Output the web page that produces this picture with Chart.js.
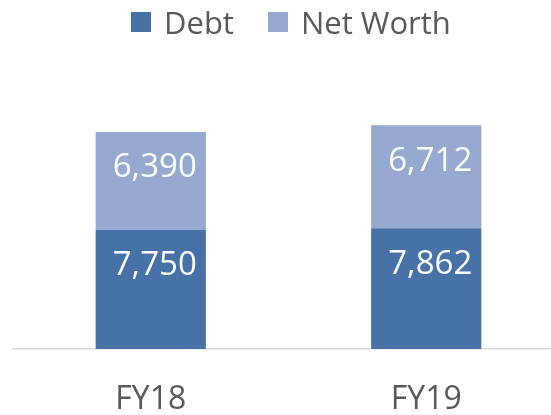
<!DOCTYPE html>
<html lang="en">
<head>
    <meta charset="UTF-8">
    <title>Debt and Net Worth</title>
    <script src="https://cdn.jsdelivr.net/npm/chart.js"></script>
    <style>
        body {
            margin: 0;
            padding: 0;
            background: #fff;
            overflow: hidden;
            font-family: 'Open Sans', sans-serif;
        }
        #chart-box {
            position: relative;
            width: 566px;
            height: 415px;
        }
        #legend {
            position: absolute;
            left: 131px;
            top: 0;
            height: 44px;
            display: flex;
            align-items: center;
            gap: 34px;
            font-size: 31px;
            color: #595959;
            white-space: nowrap;
        }
        #legend .item {
            display: flex;
            align-items: center;
        }
        #legend .swatch {
            width: 20px;
            height: 20px;
            margin-right: 13px;
        }
    </style>
</head>
<body>
    <div id="chart-box">
        <div id="legend"></div>
        <canvas id="fundChart"></canvas>
    </div>

    <script>
        const years = ['FY18', 'FY19'];
        const debt = [7750, 7862];
        const netWorth = [6390, 6712];

        const FONT = "'Open Sans', sans-serif";
        const GREY = '#595959';

        // white value labels near the top of each stacked segment
        const valueLabels = {
            id: 'valueLabels',
            afterDatasetsDraw(chart) {
                const ctx = chart.ctx;
                ctx.save();
                ctx.fillStyle = '#fff';
                ctx.font = '33px ' + FONT;
                ctx.textAlign = 'center';
                ctx.textBaseline = 'middle';
                chart.data.datasets.forEach((ds, i) => {
                    chart.getDatasetMeta(i).data.forEach((bar, j) => {
                        const text = ds.data[j].toLocaleString('en-US');
                        ctx.fillText(text, bar.x + 4, bar.y + 36);
                    });
                });
                ctx.restore();
            }
        };

        const chart = new Chart(document.getElementById('fundChart'), {
            type: 'bar',
            data: {
                labels: years,
                datasets: [
                    {
                        label: 'Debt',
                        data: debt,
                        backgroundColor: '#4672A7',
                        borderWidth: 0
                    },
                    {
                        label: 'Net Worth',
                        data: netWorth,
                        backgroundColor: '#95A9D1',
                        borderWidth: 0
                    }
                ]
            },
            options: {
                responsive: true,
                maintainAspectRatio: false,
                animation: false,
                layout: {
                    padding: { left: 13, right: 2, top: 42, bottom: 0 }
                },
                datasets: {
                    bar: {
                        categoryPercentage: 0.4,
                        barPercentage: 1
                    }
                },
                scales: {
                    x: {
                        stacked: true,
                        grid: { display: false, drawTicks: false },
                        border: { display: true, color: '#D9D9D9', width: 1.5 },
                        ticks: {
                            color: GREY,
                            padding: 35,
                            font: { family: FONT, size: 32, lineHeight: 1 }
                        },
                        afterFit(scale) {
                            scale.height = 66;
                        }
                    },
                    y: {
                        stacked: true,
                        display: false,
                        min: 0,
                        max: 20000
                    }
                },
                plugins: {
                    legend: { display: false },
                    tooltip: { enabled: false }
                }
            },
            plugins: [valueLabels]
        });

        // legend above the plot, built from the dataset names and colours
        const legendBox = document.getElementById('legend');
        chart.data.datasets.forEach(ds => {
            const item = document.createElement('span');
            item.className = 'item';
            const swatch = document.createElement('span');
            swatch.className = 'swatch';
            swatch.style.background = ds.backgroundColor;
            item.appendChild(swatch);
            item.appendChild(document.createTextNode(ds.label));
            legendBox.appendChild(item);
        });
    </script>
</body>
</html>
